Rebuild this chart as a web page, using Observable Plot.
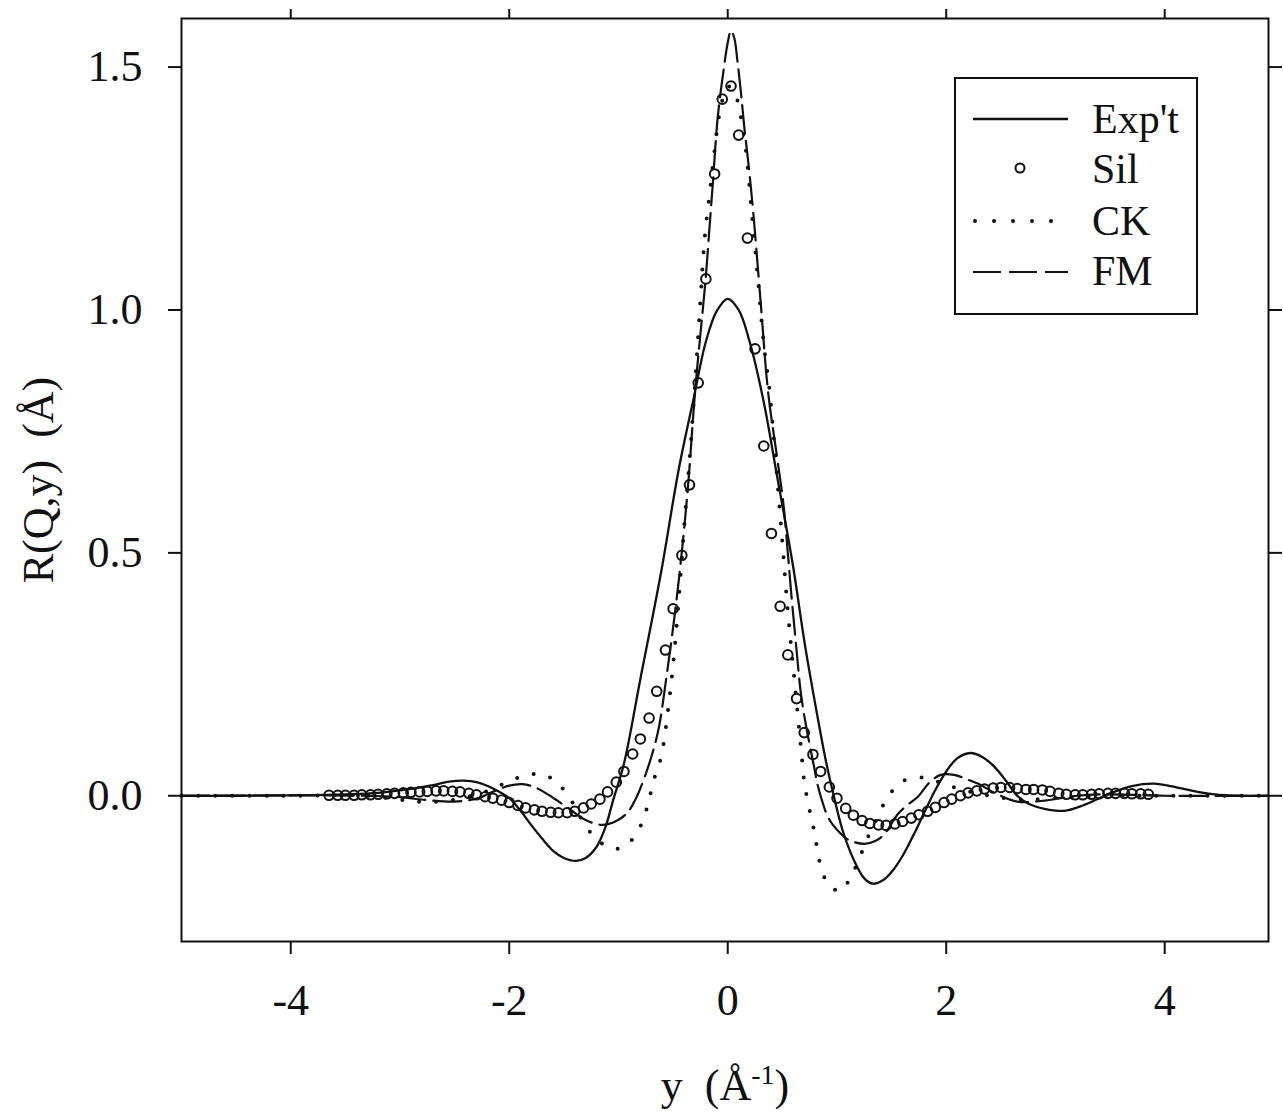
<!DOCTYPE html>
<html>
<head>
<meta charset="utf-8">
<script src="https://cdn.jsdelivr.net/npm/d3@7"></script>
<script src="https://cdn.jsdelivr.net/npm/@observablehq/plot@0.6"></script>
<style>
  body { margin: 0; background: #fff; }
  #wrap { position: relative; width: 1283px; height: 1112px; font-family: "Liberation Serif", "Times New Roman", serif; color: #111; }
  #legend { position: absolute; left: 954px; top: 77px; width: 240px; height: 234px; border: 2px solid #111; background: #fff; }
  #legend svg { display: block; }
</style>
</head>
<body>
<div id="wrap"></div>
<script>
// ---- data ----
const xTicks = [-4, -2, 0, 2, 4];
const yTicks = [0, 0.5, 1.0, 1.5];
const seriesNames = ["Exp't", "Sil", "CK", "FM"];

// Exp't (solid line): [y (1/Å), R]
const expt = [[-5,0],[-4.5,0],[-4,0.001],[-3.5,0.003],[-3.2,0.006],[-2.9,0.014],[-2.7,0.022],[-2.55,0.029],[-2.42,0.031],[-2.3,0.028],[-2.15,0.015],[-2.0,-0.005],[-1.9,-0.03],[-1.8,-0.06],[-1.7,-0.088],[-1.59,-0.115],[-1.5,-0.128],[-1.39,-0.134],[-1.3,-0.128],[-1.2,-0.105],[-1.12,-0.065],[-1.05,-0.01],[-0.95,0.066],[-0.8,0.24],[-0.61,0.46],[-0.45,0.67],[-0.31,0.82],[-0.2,0.935],[-0.1,0.998],[0,1.023],[0.1,1.0],[0.2,0.935],[0.33,0.81],[0.45,0.66],[0.6,0.47],[0.7,0.32],[0.8,0.19],[0.9,0.07],[0.96,0.01],[1.05,-0.07],[1.15,-0.13],[1.25,-0.17],[1.33,-0.181],[1.42,-0.174],[1.5,-0.157],[1.6,-0.124],[1.7,-0.081],[1.8,-0.034],[1.9,0.012],[2.0,0.05],[2.1,0.077],[2.22,0.088],[2.33,0.08],[2.44,0.06],[2.55,0.03],[2.65,0.0],[2.75,-0.016],[2.9,-0.027],[3.08,-0.031],[3.25,-0.02],[3.4,-0.005],[3.5,0.005],[3.7,0.02],[3.9,0.025],[4.1,0.018],[4.3,0.008],[4.5,0.002],[4.7,0],[4.95,0]];

// Sil (open circles)
const silX = [-3.65,-3.57,-3.50,-3.42,-3.35,-3.27,-3.20,-3.12,-3.05,-2.97,-2.90,-2.82,-2.75,-2.67,-2.60,-2.52,-2.45,-2.37,-2.30,-2.22,-2.15,-2.07,-2.00,-1.92,-1.85,-1.77,-1.70,-1.62,-1.55,-1.47,-1.40,-1.32,-1.25,-1.17,-1.10,-1.02,-0.95,-0.87,-0.80,-0.72,-0.65,-0.57,-0.50,-0.42,-0.35,-0.27,-0.20,-0.12,-0.05,0.03,0.10,0.18,0.25,0.33,0.40,0.48,0.55,0.63,0.70,0.78,0.85,0.93,1.00,1.08,1.15,1.23,1.30,1.38,1.45,1.53,1.60,1.68,1.75,1.83,1.90,1.98,2.05,2.13,2.20,2.28,2.35,2.43,2.50,2.58,2.65,2.73,2.80,2.88,2.95,3.03,3.10,3.18,3.25,3.33,3.40,3.48,3.55,3.63,3.70,3.78,3.85];
const silY = [0.001,0.001,0.001,0.001,0.002,0.002,0.003,0.004,0.005,0.006,0.007,0.008,0.009,0.010,0.010,0.009,0.008,0.005,0.002,-0.002,-0.005,-0.009,-0.014,-0.020,-0.025,-0.029,-0.032,-0.034,-0.035,-0.035,-0.032,-0.025,-0.017,-0.007,0.008,0.028,0.05,0.086,0.117,0.16,0.215,0.30,0.385,0.495,0.64,0.85,1.064,1.28,1.434,1.461,1.36,1.148,0.92,0.72,0.54,0.39,0.29,0.20,0.13,0.085,0.05,0.018,-0.005,-0.026,-0.040,-0.051,-0.057,-0.060,-0.061,-0.058,-0.053,-0.046,-0.039,-0.032,-0.024,-0.014,-0.007,0.000,0.006,0.010,0.014,0.016,0.017,0.017,0.015,0.013,0.013,0.012,0.009,0.005,0.003,0.002,0.002,0.003,0.004,0.005,0.005,0.005,0.004,0.004,0.003];

// CK (dotted line)
const ck = [[-5,0],[-4,0],[-3.3,0],[-3.0,-0.008],[-2.77,-0.013],[-2.5,-0.008],[-2.2,0.01],[-2.0,0.03],[-1.85,0.042],[-1.73,0.045],[-1.63,0.038],[-1.55,0.025],[-1.42,-0.014],[-1.32,-0.055],[-1.2,-0.09],[-1.08,-0.107],[-1.0,-0.109],[-0.92,-0.1],[-0.84,-0.08],[-0.77,-0.047],[-0.72,-0.008],[-0.68,0.03],[-0.61,0.08],[-0.55,0.17],[-0.5,0.27],[-0.45,0.4],[-0.4,0.55],[-0.34,0.72],[-0.29,0.88],[-0.25,1.02],[-0.21,1.15],[-0.16,1.25],[-0.13,1.31],[-0.07,1.41],[0.0,1.46],[0.06,1.45],[0.1,1.42],[0.16,1.34],[0.22,1.2],[0.27,1.08],[0.33,0.93],[0.38,0.84],[0.42,0.74],[0.49,0.55],[0.55,0.38],[0.61,0.24],[0.67,0.1],[0.7,0.03],[0.74,-0.02],[0.78,-0.06],[0.81,-0.098],[0.84,-0.135],[0.9,-0.175],[0.96,-0.19],[1.03,-0.197],[1.12,-0.17],[1.22,-0.12],[1.29,-0.082],[1.38,-0.04],[1.46,-0.004],[1.55,0.02],[1.63,0.033],[1.8,0.037],[1.97,0.025],[2.15,0.012],[2.4,0],[2.7,-0.008],[3.0,-0.005],[3.5,0],[4,0],[4.95,0]];

// FM (dashed line)
const fm = [[-5,0],[-3.3,0],[-3.0,-0.003],[-2.75,-0.009],[-2.5,-0.012],[-2.3,-0.006],[-2.15,0.008],[-2.0,0.021],[-1.88,0.024],[-1.75,0.016],[-1.6,-0.004],[-1.45,-0.027],[-1.3,-0.05],[-1.15,-0.06],[-1.02,-0.052],[-0.92,-0.035],[-0.85,-0.01],[-0.75,0.045],[-0.64,0.13],[-0.57,0.23],[-0.46,0.42],[-0.37,0.62],[-0.31,0.8],[-0.28,0.88],[-0.25,0.95],[-0.2,1.07],[-0.17,1.16],[-0.14,1.25],[-0.09,1.40],[-0.04,1.49],[0.0,1.55],[0.03,1.575],[0.06,1.56],[0.09,1.51],[0.12,1.45],[0.15,1.38],[0.19,1.30],[0.23,1.21],[0.3,1.02],[0.37,0.83],[0.45,0.7],[0.51,0.6],[0.55,0.5],[0.58,0.42],[0.63,0.3],[0.67,0.21],[0.72,0.14],[0.79,0.06],[0.82,0.025],[0.87,-0.015],[0.92,-0.045],[1.0,-0.07],[1.1,-0.09],[1.25,-0.099],[1.35,-0.093],[1.43,-0.08],[1.56,-0.037],[1.65,-0.018],[1.74,-0.002],[1.85,0.028],[1.95,0.043],[2.07,0.043],[2.2,0.033],[2.29,0.025],[2.45,0.005],[2.65,-0.012],[2.9,-0.01],[3.2,0],[3.5,0.003],[4,0],[4.95,0]];

// ---- build rows ----
const rows = (arr) => arr.map(([x, y]) => ({x, y}));
const silRows = silX.map((x, i) => ({x, y: silY[i]}));

const font = "Liberation Serif, Times New Roman, serif";
const chart = Plot.plot({
  width: 1283,
  height: 1112,
  marginLeft: 181,
  marginRight: 15,
  marginTop: 18,
  marginBottom: 171,
  style: {fontFamily: font, fontSize: "44px", background: "white", color: "#111", overflow: "visible"},
  x: {domain: [-5, 4.95]},
  y: {domain: [-0.3, 1.6]},
  marks: [
    Plot.frame({stroke: "#111", strokeWidth: 2}),
    Plot.axisX({anchor: "bottom", ticks: xTicks, tickSize: 13, tickPadding: 29, strokeWidth: 2, tickFormat: d => String(d),
      label: "y  (Å-1)", labelAnchor: "center", labelArrow: "none", labelOffset: 158}),
    Plot.axisX({anchor: "top", ticks: xTicks, tickSize: 10, strokeWidth: 2, tickFormat: () => "", label: null}),
    Plot.axisY({anchor: "left", ticks: yTicks, tickSize: 13, tickPadding: 26, strokeWidth: 2, tickFormat: d3.format(".1f"),
      label: "R(Q,y)  (Å)", labelAnchor: "center", labelArrow: "none", labelOffset: 160}),
    Plot.axisY({anchor: "right", ticks: yTicks, tickSize: 13, strokeWidth: 2, tickFormat: () => "", label: null}),
    Plot.line(rows(expt), {x: "x", y: "y", stroke: "#111", strokeWidth: 2.3, curve: "catmull-rom"}),
    Plot.line(rows(fm), {x: "x", y: "y", stroke: "#111", strokeWidth: 2.2, strokeDasharray: "28 8", curve: "catmull-rom"}),
    Plot.line(rows(ck), {x: "x", y: "y", stroke: "#111", strokeWidth: 4, strokeDasharray: "0 17", strokeLinecap: "round", curve: "catmull-rom"}),
    Plot.dot(silRows, {x: "x", y: "y", r: 4.8, stroke: "#111", strokeWidth: 2, fill: "none"})
  ]
});

// superscript in the x label
const xl = d3.select(chart).select('g[aria-label="x-axis label"] text');
if (!xl.empty()) {
  xl.text(null);
  xl.append("tspan").text("y  (Å");
  xl.append("tspan").attr("font-size", "28px").attr("dy", "-16").text("-1");
  xl.append("tspan").attr("dy", "16").text(")");
}

const wrap = document.getElementById("wrap");
wrap.appendChild(chart);

// legend box inside the plot (upper right)
const leg = document.createElement("div");
leg.id = "legend";
wrap.appendChild(leg);
const ls = d3.select(leg).append("svg").attr("width", 240).attr("height", 234)
  .style("font-family", font).style("font-size", "42px");
const rowLineY = [40, 89, 142, 193];
const rowTextY = [54, 104, 156, 206];
// Exp't
ls.append("line").attr("x1", 17).attr("x2", 112).attr("y1", rowLineY[0]).attr("y2", rowLineY[0]).attr("stroke", "#111").attr("stroke-width", 2.3);
// Sil
ls.append("circle").attr("cx", 64).attr("cy", rowLineY[1]).attr("r", 4.5).attr("fill", "none").attr("stroke", "#111").attr("stroke-width", 2);
// CK
ls.append("line").attr("x1", 19).attr("x2", 112).attr("y1", rowLineY[2]).attr("y2", rowLineY[2]).attr("stroke", "#111").attr("stroke-width", 4).attr("stroke-dasharray", "0 19").attr("stroke-linecap", "round");
// FM
ls.append("line").attr("x1", 17).attr("x2", 112).attr("y1", rowLineY[3]).attr("y2", rowLineY[3]).attr("stroke", "#111").attr("stroke-width", 2.2).attr("stroke-dasharray", "28 8");
seriesNames.forEach((n, i) => {
  ls.append("text").attr("x", 136).attr("y", rowTextY[i]).attr("fill", "#111").text(n);
});
</script>
</body>
</html>
